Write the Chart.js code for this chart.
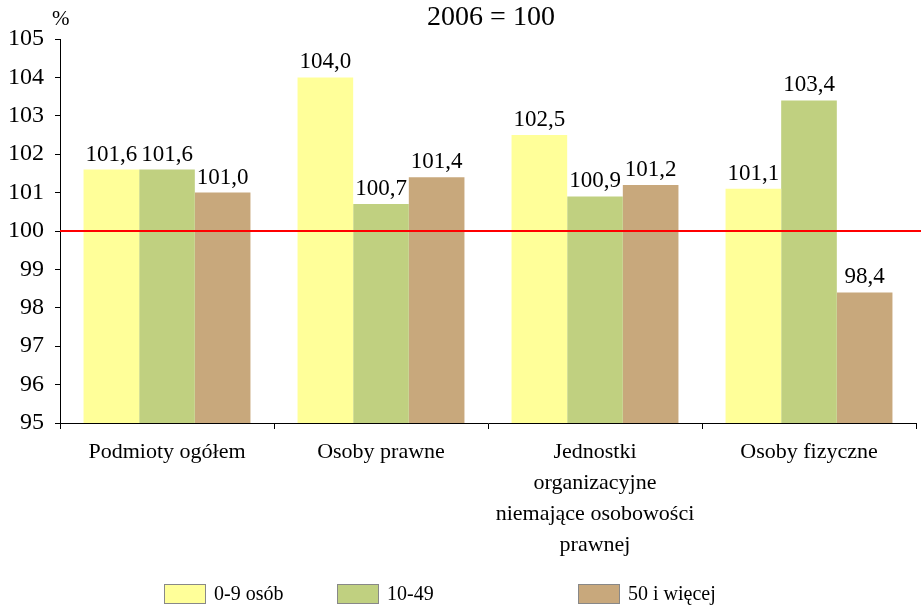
<!DOCTYPE html>
<html>
<head>
<meta charset="utf-8">
<script src="https://cdn.jsdelivr.net/npm/chart.js@4/dist/chart.umd.min.js"></script>
<style>
  body { margin: 0; background: #fff; }
  #wrap { position: relative; width: 921px; height: 605px; font-family: "Liberation Serif", "Times New Roman", serif; }
  #title { position: absolute; left: 0; width: 982px; top: 0px; text-align: center; font-size: 28px; }
  #pct { position: absolute; left: 52px; top: 6px; font-size: 21px; }
  .leg { position: absolute; top: 582px; font-size: 20px; display: flex; align-items: center; }
  .leg span.box { display: inline-block; width: 40px; height: 18px; border: 1px solid #888; margin-right: 8px; }
</style>
</head>
<body>
<div id="wrap">
  <canvas id="chart" width="921" height="605"></canvas>
  <div id="title">2006 = 100</div>
  <div id="pct">%</div>
  <div id="legend"></div>
</div>
<script>
const categories = [
  'Podmioty ogółem',
  'Osoby prawne',
  ['Jednostki', 'organizacyjne', 'niemające osobowości', 'prawnej'],
  'Osoby fizyczne'
];
const seriesNames = ['0-9 osób', '10-49', '50 i więcej'];
const small = [101.6, 104.0, 102.5, 101.1];
const medium = [101.6, 100.7, 100.9, 103.4];
const large = [101.0, 101.4, 101.2, 98.4];
const colors = ['#FFFF99', '#C0D080', '#C8A87C'];
const baseValue = 100;

const font = '"Liberation Serif", "Times New Roman", serif';

// legend
const legendPos = [164, 337, 578];
const legendEl = document.getElementById('legend');
seriesNames.forEach(function(name, i) {
  const d = document.createElement('div');
  d.className = 'leg';
  d.style.left = legendPos[i] + 'px';
  d.innerHTML = '<span class="box" style="background:' + colors[i] + '"></span>' + name;
  legendEl.appendChild(d);
});

// red line at 100 + value labels
const overlay = {
  id: 'overlay',
  afterDatasetsDraw(chart) {
    const ctx = chart.ctx;
    const area = chart.chartArea;
    const y = chart.scales.y.getPixelForValue(baseValue);
    ctx.save();
    ctx.strokeStyle = '#FF0000';
    ctx.lineWidth = 2;
    ctx.beginPath();
    ctx.moveTo(area.left, y);
    ctx.lineTo(area.right + 5, y);
    ctx.stroke();

    ctx.fillStyle = '#000';
    ctx.font = '23px ' + font;
    ctx.textAlign = 'center';
    ctx.textBaseline = 'alphabetic';
    chart.data.datasets.forEach(function(ds, i) {
      chart.getDatasetMeta(i).data.forEach(function(bar, j) {
        ctx.fillText(ds.data[j].toFixed(1).replace('.', ','), bar.x, bar.y - 9);
      });
    });
    ctx.restore();
  }
};

new Chart(document.getElementById('chart'), {
  type: 'bar',
  data: {
    labels: categories,
    datasets: [
      { label: seriesNames[0], data: small, backgroundColor: colors[0] },
      { label: seriesNames[1], data: medium, backgroundColor: colors[1] },
      { label: seriesNames[2], data: large, backgroundColor: colors[2] }
    ]
  },
  options: {
    responsive: false,
    animation: false,
    layout: { padding: { top: 39, right: 5, left: 0, bottom: 0 } },
    categoryPercentage: 0.78,
    barPercentage: 1,
    plugins: { legend: { display: false }, tooltip: { enabled: false } },
    scales: {
      y: {
        min: 95,
        max: 105,
        ticks: { stepSize: 1, color: '#000', font: { family: font, size: 24 }, padding: 11 },
        grid: { drawOnChartArea: false, tickLength: 5, color: '#000' },
        border: { color: '#000', width: 1 },
        afterFit(scale) { scale.width = 60; }
      },
      x: {
        ticks: { color: '#000', font: { family: font, size: 22, lineHeight: 1.4 }, padding: 8, maxRotation: 0, autoSkip: false },
        grid: { offset: true, drawOnChartArea: false, tickLength: 6, color: '#000' },
        border: { color: '#000', width: 1 },
        afterFit(scale) { scale.height = 182; }
      }
    }
  },
  plugins: [overlay]
});
</script>
</body>
</html>
